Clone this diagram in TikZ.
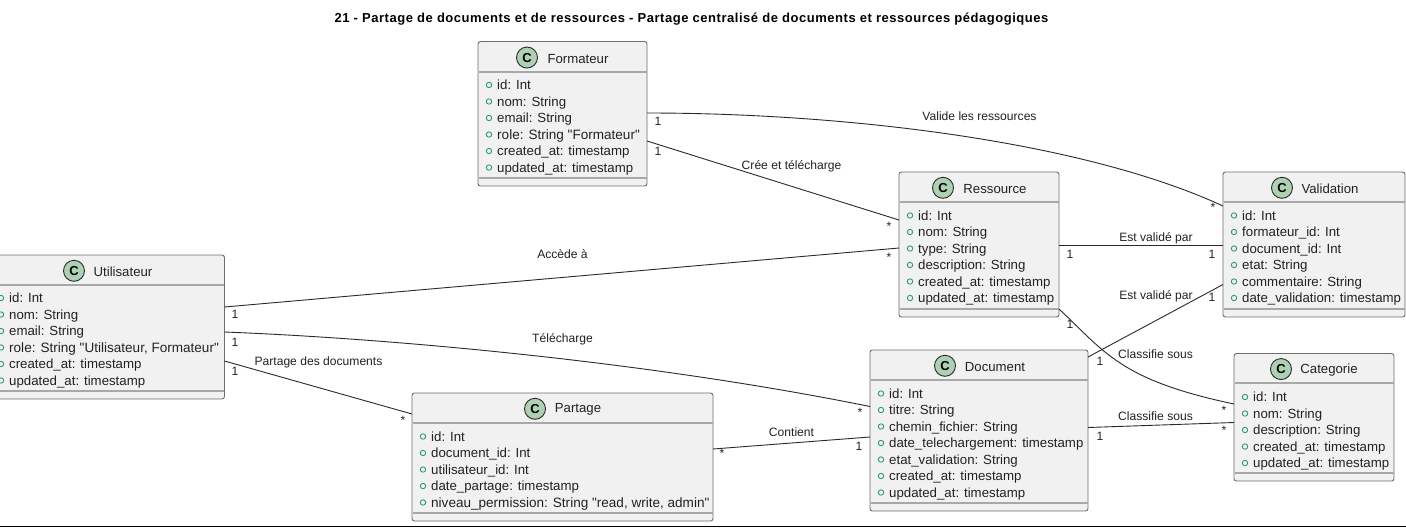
\documentclass[tikz,border=0pt]{standalone}
\usepackage{fontspec}
\setmainfont{Liberation Sans}
\newfontfamily\plainfont{Liberation Sans}
\newfontfamily\titlefont[LetterSpace=4.1]{Liberation Sans}
\newcommand{\widerow}[1]{{\fontsize{13.55}{15}\selectfont #1}}
\definecolor{boxfill}{HTML}{F1F1F1}
\definecolor{boxline}{HTML}{6E6E6E}
\definecolor{sepline}{HTML}{A8A8A8}
\definecolor{edgeline}{HTML}{2A2A2A}
\definecolor{txt}{HTML}{222222}
\definecolor{spotfill}{HTML}{ADD1B2}
\definecolor{bullet}{HTML}{2E9A72}
\tikzset{
  umlbox/.style={draw=boxline,fill=boxfill,line width=0.9pt,rounded corners=2.5pt,inner sep=0,outer sep=0},
  seprule/.style={draw=sepline,line width=1.1pt},
  spot/.style={circle,draw=edgeline,fill=spotfill,line width=0.9pt,minimum size=21pt,inner sep=0,font=\fontsize{13}{13}\selectfont\bfseries},
  classname/.style={anchor=center,inner sep=0,text=txt,font=\fontsize{13.2}{15}\selectfont},
  rowtext/.style={anchor=base west,inner sep=0,text=txt,font=\plainfont\fontsize{13.25}{15}\selectfont},
  bul/.style={circle,draw=bullet,line width=0.9pt,minimum size=5.4pt,inner sep=0},
  edgelabel/.style={anchor=center,inner sep=0,text=txt,font=\fontsize{12.1}{14}\selectfont},
  mult/.style={anchor=center,inner sep=0,text=txt,font=\fontsize{12.1}{14}\selectfont},
  edge/.style={draw=edgeline,line width=0.9pt}
}
% name, x1, y1, x2, y2, header y, footer y, spot x, title x, then first row y, rows
\newcommand{\umlclass}[9]{%
  \def\cname{#1}\def\cxa{#2}\def\cya{#3}\def\cxb{#4}\def\cyb{#5}\def\chead{#6}\def\cfoot{#7}\def\cspot{#8}\def\ctitx{#9}%
  \umlclassb}
\newcommand{\umlclassb}[2]{%
  \pgfmathsetmacro\cw{\cxb-\cxa}\pgfmathsetmacro\ch{\cyb-\cya}%
  \pgfmathsetmacro\cmx{(\cxa+\cxb)/2}\pgfmathsetmacro\cmy{(\cya+\cyb)/2}%
  \node[umlbox,minimum width=\cw pt,minimum height=\ch pt] (\cname) at (\cmx,\cmy) {};
  \draw[seprule] (\cxa+0.5,\chead) -- (\cxb-0.5,\chead);
  \draw[seprule] (\cxa+0.5,\cfoot) -- (\cxb-0.5,\cfoot);
  \pgfmathsetmacro\cmidy{(\cya+\chead)/2+0.8}%
  \node[spot] (\cname-spot) at (\cspot,\cmidy) {C};
  \node[classname] (\cname-title) at (\ctitx,\cmidy+1) {\cname};
  \foreach \rowt [count=\ri from 0] in {#2} {
    \pgfmathsetmacro\ry{#1+16.5*\ri}%
    \pgfmathsetmacro\rbase{\ry+4.5}%
    \pgfmathsetmacro\bx{\cxa+11}%
    \pgfmathsetmacro\tx{\cxa+19}%
    \node[bul] (\cname-b\ri) at (\bx,\ry) {};
    \node[rowtext] (\cname-r\ri) at (\tx,\rbase) {\rowt};
  }
}
\begin{document}
\begin{tikzpicture}[x=1pt,y=-1pt]
\clip (0,0) rectangle (1406,528);
\fill[white] (0,0) rectangle (1406,528);
\node[anchor=center,inner sep=0,text=black,font=\fontsize{13}{15}\selectfont\bfseries\titlefont] (diagtitle) at (691.5,19) {21 - Partage de documents et de ressources - Partage centralisé de documents et ressources pédagogiques};

\umlclass{Formateur}{478}{41.5}{647}{186}{72}{178}{527}{578}{85}{{id: Int},{nom: String},{email: String},{\widerow{role: String "Formateur"}},{created\_at: timestamp},{updated\_at: timestamp}}
\umlclass{Utilisateur}{-10}{255}{224.5}{399}{285}{391}{74}{123}{298}{{id: Int},{nom: String},{email: String},{\widerow{role: String "Utilisateur, Formateur"}},{created\_at: timestamp},{updated\_at: timestamp}}
\umlclass{Partage}{412}{393}{713}{521}{423}{513}{535}{578}{436.5}{{id: Int},{document\_id: Int},{utilisateur\_id: Int},{date\_partage: timestamp},{\widerow{niveau\_permission: String "read, write, admin"}}}
\umlclass{Document}{870}{350}{1088}{511}{380}{503}{945}{995}{393.5}{{id: Int},{titre: String},{chemin\_fichier: String},{date\_telechargement: timestamp},{etat\_validation: String},{created\_at: timestamp},{updated\_at: timestamp}}
\umlclass{Ressource}{899}{172}{1059}{317}{202}{309}{943}{995}{215.5}{{id: Int},{nom: String},{type: String},{description: String},{created\_at: timestamp},{updated\_at: timestamp}}
\umlclass{Validation}{1223}{172}{1405}{317}{202}{309}{1282}{1330}{215.5}{{id: Int},{formateur\_id: Int},{document\_id: Int},{etat: String},{commentaire: String},{date\_validation: timestamp}}
\umlclass{Categorie}{1234}{353.5}{1394}{481}{383}{473}{1281}{1329}{397}{{id: Int},{nom: String},{description: String},{created\_at: timestamp},{updated\_at: timestamp}}

\draw[edge] ([yshift=-71.5pt]Formateur.north east) .. controls +(193,0) and +(-143,-66) .. ([yshift=-34pt]Validation.north west);
\draw[edge] ([yshift=-99.5pt]Formateur.north east) -- ([yshift=-48pt]Ressource.north west);
\draw[edge] ([yshift=-52pt]Utilisateur.north east) -- ([yshift=-76pt]Ressource.north west);
\draw[edge] ([yshift=-77pt]Utilisateur.north east) .. controls +(155.5,6) and +(-230,-46.5) .. ([yshift=-56.5pt]Document.north west);
\draw[edge] ([yshift=-106pt]Utilisateur.north east) -- ([yshift=-21pt]Partage.north west);
\draw[edge] ([yshift=-56pt]Partage.north east) -- ([yshift=-87pt]Document.north west);
\draw[edge] ([yshift=-77.5pt]Document.north east) -- ([yshift=-69pt]Categorie.north west);
\draw[edge] ([yshift=-7pt]Document.north east) -- ([yshift=-112.5pt]Validation.north west);
\draw[edge] ([yshift=-137pt]Ressource.north east) .. controls +(46,43) and +(-114,-24) .. ([yshift=-50.5pt]Categorie.north west);
\draw[edge] ([yshift=-73pt]Ressource.north east) -- ([yshift=-73pt]Validation.north west);

\node[edgelabel] (l1) at (979.5,116.5) {Valide les ressources};
\node[edgelabel] (l2) at (791.5,166) {Crée et télécharge};
\node[edgelabel] (l3) at (562.5,254) {Accède à};
\node[edgelabel] (l4) at (562.5,339) {Télécharge};
\node[edgelabel] (l5) at (318.5,362) {Partage des documents};
\node[edgelabel] (l6) at (791.5,432) {Contient};
\node[edgelabel] (l7) at (1155.5,416.5) {Classifie sous};
\node[edgelabel] (l8) at (1155.5,354.5) {Classifie sous};
\node[edgelabel] (l9) at (1156,296) {Est validé par};
\node[edgelabel] (l10) at (1156,238) {Est validé par};

\foreach \mx/\my/\mt [count=\mi] in {658/121/1,658/151/1,1213/207/*,889/226/*,889/257/*,235/314/1,235/342/1,235/371/1,403/420/*,860/412/*,1070/254/1,1212/254/1,1212/297/1,1070/324/1,1100/361/1,1224/410/*,1224/430/*,1100/436/1,859/446/1,722/453/*}
  \node[mult] (m\mi) at (\mx,\my) {\mt};

\fill[black] (0,525.7) rectangle (1406,526.9);
\end{tikzpicture}
\end{document}
